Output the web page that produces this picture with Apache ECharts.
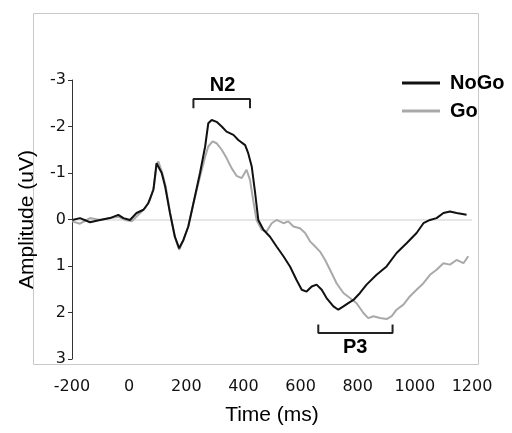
<!DOCTYPE html>
<html>
<head>
<meta charset="utf-8">
<script src="https://cdn.jsdelivr.net/npm/echarts@6/dist/echarts.min.js"></script>
<style>
  html, body { margin: 0; padding: 0; background: #fff; }
  #erpChart { width: 512px; height: 433px; }
</style>
</head>
<body>
<div id="erpChart"></div>
<script>
// time points (ms) and amplitudes (uV)
const nogoTime = [-199, -172, -137, -102, -67, -38, -20, 3, 26, 50, 67, 85, 96, 99, 114, 126, 143, 160, 175, 190, 207, 225, 248, 266, 277, 289, 306, 324, 341, 365, 382, 406, 417, 429, 441, 452, 470, 493, 516, 540, 563, 586, 604, 621, 639, 656, 674, 691, 715, 732, 750, 767, 785, 808, 831, 866, 901, 936, 971, 1006, 1030, 1053, 1076, 1100, 1123, 1146, 1181];
const nogoAmp = [0.01, -0.03, 0.06, 0.01, -0.03, -0.10, -0.03, 0.01, -0.14, -0.21, -0.35, -0.64, -1.21, -1.25, -1.0, -0.71, -0.14, 0.37, 0.62, 0.44, 0.15, -0.35, -1.0, -1.57, -2.07, -2.14, -2.10, -2.0, -1.89, -1.82, -1.71, -1.60, -1.42, -1.14, -0.57, 0.01, 0.22, 0.37, 0.58, 0.79, 1.01, 1.30, 1.51, 1.55, 1.44, 1.40, 1.51, 1.69, 1.87, 1.94, 1.87, 1.80, 1.73, 1.58, 1.40, 1.19, 1.01, 0.72, 0.51, 0.29, 0.08, 0.01, -0.03, -0.14, -0.17, -0.14, -0.10];

const goTime = [-199, -172, -137, -102, -67, -38, -14, 9, 32, 56, 73, 87, 96, 102, 116, 128, 143, 160, 175, 190, 207, 225, 248, 266, 277, 292, 306, 324, 341, 359, 376, 394, 411, 423, 434, 446, 464, 481, 499, 516, 540, 557, 575, 598, 616, 633, 651, 668, 686, 703, 726, 750, 773, 796, 820, 837, 855, 878, 901, 919, 936, 960, 983, 1006, 1030, 1053, 1076, 1100, 1123, 1146, 1170, 1187];
const goAmp = [0.04, 0.09, -0.03, 0.01, -0.03, -0.06, 0.01, 0.04, -0.10, -0.24, -0.42, -0.71, -1.17, -1.25, -1.0, -0.71, -0.14, 0.37, 0.65, 0.44, 0.15, -0.35, -0.92, -1.35, -1.57, -1.68, -1.64, -1.50, -1.32, -1.10, -0.94, -0.89, -1.07, -0.85, -0.42, 0.01, 0.22, 0.26, 0.08, 0.01, 0.08, 0.04, 0.15, 0.19, 0.29, 0.47, 0.58, 0.69, 0.87, 1.08, 1.37, 1.58, 1.69, 1.80, 2.01, 2.12, 2.08, 2.12, 2.14, 2.08, 1.94, 1.83, 1.65, 1.51, 1.37, 1.19, 1.08, 0.94, 0.97, 0.87, 0.94, 0.79];

const xTicks = [-200, 0, 200, 400, 600, 800, 1000, 1200];
const yTicks = [-3, -2, -1, 0, 1, 2, 3];

// component windows (ms) and bracket levels (uV)
const n2Window = [225, 423];
const n2Level = [-2.39, -2.59];
const p3Window = [662, 922];
const p3Level = [2.26, 2.44];
const componentLabels = [
  { name: "N2", value: [327, -2.89] },
  { name: "P3", value: [791, 2.76] },
];

const zip = (xs, ys) => xs.map((x, i) => [x, ys[i]]);
const bracket = (win, lvl) => [
  [win[0], lvl[0]], [win[0], lvl[1]], [win[1], lvl[1]], [win[1], lvl[0]],
];

const chart = echarts.init(document.getElementById("erpChart"));

const bracketStyle = {
  type: "line",
  symbol: "none",
  silent: true,
  lineStyle: { color: "#222", width: 2 },
  z: 3,
};

const options = {
  animation: false,
  textStyle: { fontFamily: "DejaVu Sans" },
  graphic: [
    {
      type: "rect",
      shape: { x: 33.5, y: 13.5, width: 445, height: 351 },
      style: { fill: "none", stroke: "#c8c8c8", lineWidth: 1 },
      z: 0,
    },
  ],
  grid: { left: 72, right: 40, top: 80, bottom: 74 },
  legend: {
    data: ["NoGo", "Go"],
    orient: "vertical",
    left: 397,
    top: 68,
    icon: "rect",
    itemWidth: 38,
    itemHeight: 3,
    itemGap: 8,
    textStyle: {
      fontFamily: "Liberation Sans",
      fontWeight: "bold",
      fontSize: 20,
      color: "#000",
      padding: [0, 0, 0, 5],
    },
  },
  xAxis: {
    type: "value",
    min: xTicks[0],
    max: xTicks[xTicks.length - 1],
    interval: 200,
    name: "Time (ms)",
    nameLocation: "middle",
    nameGap: 46,
    nameTextStyle: { fontFamily: "Liberation Sans", fontSize: 21, color: "#000" },
    axisLine: { show: false, onZero: false },
    axisTick: { show: false },
    splitLine: { show: false },
    axisLabel: { fontSize: 16, color: "#111", margin: 20, formatter: (v) => String(v) },
  },
  yAxis: {
    type: "value",
    inverse: true,
    min: yTicks[0],
    max: yTicks[yTicks.length - 1],
    interval: 1,
    name: "Amplitude (uV)",
    nameLocation: "middle",
    nameGap: 34,
    nameTextStyle: { fontFamily: "Liberation Sans", fontSize: 21, color: "#000" },
    axisLine: { show: true, onZero: false, lineStyle: { color: "#333", width: 1 } },
    axisTick: { show: true, length: 4, lineStyle: { color: "#333" } },
    splitLine: { show: false },
    axisLabel: { fontSize: 16, color: "#111", margin: 6 },
  },
  series: [
    {
      name: "Go",
      type: "line",
      data: zip(goTime, goAmp),
      symbol: "none",
      color: "#a9a9a9",
      lineStyle: { color: "#a9a9a9", width: 2 },
      z: 2,
      markLine: {
        silent: true,
        symbol: "none",
        label: { show: false },
        lineStyle: { color: "#dedede", width: 1.5, type: "solid" },
        data: [{ yAxis: 0 }],
        z: 1,
      },
    },
    {
      name: "NoGo",
      type: "line",
      data: zip(nogoTime, nogoAmp),
      symbol: "none",
      color: "#111",
      lineStyle: { color: "#111", width: 2 },
      z: 3,
    },
    Object.assign({ name: "n2Bracket", data: bracket(n2Window, n2Level) }, bracketStyle),
    Object.assign({ name: "p3Bracket", data: bracket(p3Window, p3Level) }, bracketStyle),
    {
      name: "labels",
      type: "scatter",
      symbolSize: 0,
      silent: true,
      data: componentLabels,
      itemStyle: { opacity: 1, color: "#000" },
      label: {
        show: true,
        position: "inside",
        formatter: (p) => p.name,
        fontFamily: "Liberation Sans",
        fontWeight: "bold",
        fontSize: 20,
        color: "#000",
        opacity: 1,
        textBorderWidth: 0,
      },
    },
  ],
};

chart.setOption(options);
</script>
</body>
</html>
